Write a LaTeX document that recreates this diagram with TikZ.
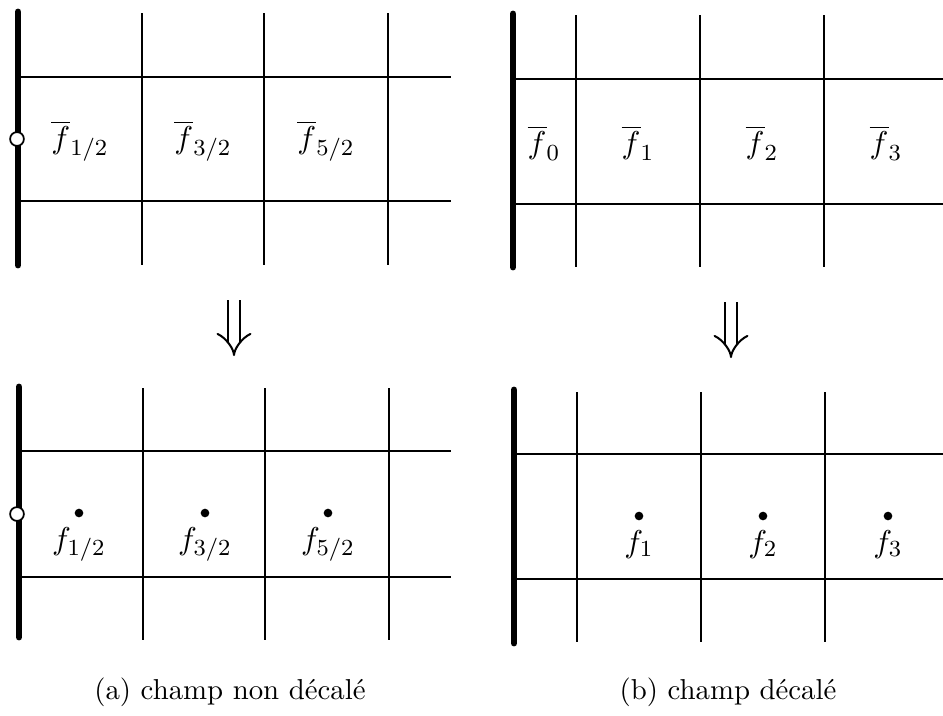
\documentclass[tikz,border=0pt]{standalone}
\usetikzlibrary{arrows.meta, positioning}
\tikzset{
  wall/.style={line width=2.4pt, line cap=round},
  gline/.style={line width=0.6pt},
  bnd/.style={circle, draw, fill=white, line width=0.6pt, inner sep=0pt, minimum size=4.8pt},
  pt/.style={circle, fill, inner sep=0pt, minimum size=3pt},
  val/.style={font=\fontsize{11}{13}\selectfont, inner sep=1pt},
  impl/.style={double distance=3.6pt, line width=0.7pt, -{Implies}},
  captxt/.style={font=\normalsize, inner sep=1pt},
}

\begin{document}
\begin{tikzpicture}[x=0.347pt, y=-0.347pt]
    \useasboundingbox (0,0) rectangle (943,715);

    % (a) top: non staggered, cell averages
    \foreach \x in {142,264,388} \draw[gline] (\x,13) -- (\x,265);
    \foreach \y in {77,201} \draw[gline] (18,\y) -- (451,\y);
    \draw[wall] (18,12) -- (18,265);
    \node[bnd] (ta0) at (17,139) {};
    \node[val] (ta1) at (80,141) {$\overline{f}_{1/2}$};
    \node[val] (ta2) at (203,141) {$\overline{f}_{3/2}$};
    \node[val] (ta3) at (326,141) {$\overline{f}_{5/2}$};

    % (b) top: staggered
    \foreach \x in {576,700,824} \draw[gline] (\x,15) -- (\x,267);
    \foreach \y in {79,204} \draw[gline] (513,\y) -- (943,\y);
    \draw[wall] (513,14) -- (513,267);
    \node[val] (tb0) at (544,143) {$\overline{f}_0$};
    \node[val] (tb1) at (638,143) {$\overline{f}_1$};
    \node[val] (tb2) at (762,143) {$\overline{f}_2$};
    \node[val] (tb3) at (886,143) {$\overline{f}_3$};

    % arrows
    \coordinate (da1) at (234,300);
    \coordinate (da2) at (234,356);
    \coordinate (db1) at (731,302);
    \coordinate (db2) at (731,358);
    \draw[impl] (da1) -- (da2);
    \draw[impl] (db1) -- (db2);

    % (a) bottom: point values
    \foreach \x in {143,265,389} \draw[gline] (\x,388) -- (\x,640);
    \foreach \y in {451,577} \draw[gline] (18,\y) -- (451,\y);
    \draw[wall] (19,387) -- (19,637);
    \node[bnd] (ba0) at (17,514) {};
    \node[pt] (pa1) at (79,513) {};
    \node[pt] (pa2) at (205,513) {};
    \node[pt] (pa3) at (328,513) {};
    \node[val, below=2pt of pa1] (ba1) {$f_{1/2}$};
    \node[val, below=2pt of pa2] (ba2) {$f_{3/2}$};
    \node[val, below=2pt of pa3] (ba3) {$f_{5/2}$};

    % (b) bottom
    \foreach \x in {577,701,825} \draw[gline] (\x,392) -- (\x,642);
    \foreach \y in {454,579} \draw[gline] (514,\y) -- (943,\y);
    \draw[wall] (514,390) -- (514,643);
    \node[pt] (pb1) at (639,516) {};
    \node[pt] (pb2) at (763,516) {};
    \node[pt] (pb3) at (888,516) {};
    \node[val, below=2pt of pb1] (bb1) {$f_1$};
    \node[val, below=2pt of pb2] (bb2) {$f_2$};
    \node[val, below=2pt of pb3] (bb3) {$f_3$};

    % captions
    \node[captxt] (capa) at (230,692) {(a) champ non décalé};
    \node[captxt] (capb) at (728,692) {(b) champ décalé};
  \end{tikzpicture}
\end{document}
